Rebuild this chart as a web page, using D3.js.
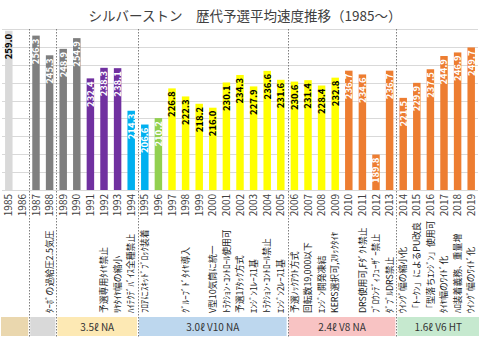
<!DOCTYPE html>
<html lang="ja">
<head>
<meta charset="UTF-8">
<script src="https://d3js.org/d3.v7.min.js"></script>
<style>
  body { margin: 0; background: #fff; }
  svg { display: block; font-family: "Noto Sans CJK JP", "Noto Sans", sans-serif; }
</style>
</head>
<body>
<svg id="chart" width="480" height="338"></svg>
<script>
// --- data ---
const years = [1985, 1986, 1987, 1988, 1989, 1990, 1991, 1992, 1993, 1994,
               1995, 1996, 1997, 1998, 1999, 2000, 2001, 2002, 2003, 2004,
               2005, 2006, 2007, 2008, 2009, 2010, 2011, 2012, 2013, 2014,
               2015, 2016, 2017, 2018, 2019];
const speeds = [259.0, null, 256.3, 245.3, 248.9, 254.9, 232.4, 238.3, 238.1, 214.3,
                206.6, 210.2, 226.8, 222.3, 218.2, 216.0, 230.1, 234.3, 227.9, 236.6,
                231.6, 230.6, 231.4, 228.4, 232.8, 236.7, 234.6, 189.8, 236.7, 221.5,
                229.9, 237.5, 244.9, 246.9, 249.7];
// bar colour group per year (see palette below)
const barGroup = [0, null, 1, 1, 1, 1, 2, 2, 2, 3,
                  3, 4, 5, 5, 5, 5, 5, 5, 5, 5,
                  5, 5, 5, 5, 5, 6, 6, 6, 6, 6,
                  6, 6, 6, 6, 6];
const yTicks = [170, 180, 190, 200, 210, 220, 230, 240, 250, 260];

const eraLabels = ["", "", "3.5ℓ NA", "3.0ℓ V10 NA", "2.4ℓ V8 NA", "1.6ℓ V6 HT"];
const eraStart = [1985, 1987, 1989, 1995, 2006, 2014];
const eraEnd   = [1986, 1988, 1994, 2005, 2013, 2019];

const noteYears = [1988, 1992, 1993, 1994, 1995, 1998, 2000, 2001, 2002, 2003,
                   2004, 2005, 2006, 2007, 2008, 2009, 2011, 2012, 2013, 2014,
                   2015, 2016, 2017, 2018, 2019];
const noteTexts = ["ﾀｰﾎﾞの過給圧2.5気圧", "予選専用ﾀｲﾔ禁止", "ﾘﾔﾀｲﾔ幅の縮小",
                   "ﾊｲﾃｸﾃﾞﾊﾞｲｽ全種禁止", "ﾌﾛｱにｽｷｯﾄﾞﾌﾞﾛｯｸ装着", "ｸﾞﾙｰﾌﾞﾄﾞﾀｲﾔ導入",
                   "V型10気筒に統一", "ﾄﾗｸｼｮﾝ･ｺﾝﾄﾛｰﾙ使用可", "予選1ｱﾀｯｸ方式",
                   "ｴﾝｼﾞﾝ1ﾚｰｽ1基", "ﾄﾗｸｼｮﾝ･ｺﾝﾄﾛｰﾙ禁止", "ｴﾝｼﾞﾝ2ﾚｰｽ1基",
                   "予選ﾉｯｸｱｳﾄ方式", "回転数19,000以下", "ｴﾝｼﾞﾝ開発凍結",
                   "KERS選択可,ｽﾘｯｸﾀｲﾔ", "DRS使用可,Fﾀﾞｸﾄ禁止", "ﾌﾞﾛｳﾝﾃﾞｨﾌｭｰｻﾞｰ禁止",
                   "ﾀﾞﾌﾞﾙDRS禁止", "ｳｲﾝｸﾞ幅の縮小化", "「ﾄｰｸﾝ」によるPU改良",
                   "「型落ちｴﾝｼﾞﾝ」使用可", "ﾀｲﾔ幅のﾜｲﾄﾞ化", "ﾊﾛ装着義務、重量増",
                   "ｳｲﾝｸﾞ幅のﾜｲﾄﾞ化"];

const title = "シルバーストン　歴代予選平均速度推移（1985～）";

// --- styles ---
const palette    = ["#d9d9d9", "#7f7f7f", "#7030a0", "#00b0f0", "#92d050", "#ffff00", "#ed7d31"];
const labelColor = ["#000", "#fff", "#fff", "#fff", "#fff", "#000", "#fff"];
const eraColors  = ["#ead7ae", "#d9d9d9", "#fde9b4", "#bdd7ee", "#f8c3c3", "#c6e9cf"];

const svg = d3.select("#chart");

const x = d3.scaleBand()
    .domain(years)
    .range([2, 478])
    .paddingInner(0.45)
    .paddingOuter(0.225);

const y = d3.scaleLinear()
    .domain([170, 260])
    .range([190, 29]);

const cx = yr => x(yr) + x.bandwidth() / 2;
const gapLeft = yr => x(yr) - x.step() * x.paddingInner() / 2;

// title
svg.append("text")
    .attr("x", 245)
    .attr("y", 21)
    .attr("text-anchor", "middle")
    .attr("font-size", 13.5)
    .attr("fill", "#404040")
    .text(title);

// gridlines
svg.append("g")
    .selectAll("line")
    .data(yTicks)
    .join("line")
    .attr("x1", 2)
    .attr("x2", 478)
    .attr("y1", d => Math.round(y(d)) + 0.5)
    .attr("y2", d => Math.round(y(d)) + 0.5)
    .attr("stroke", "#d9d9d9");

// bars
const barData = years.map((yr, i) => ({ year: yr, v: speeds[i], g: barGroup[i] }))
    .filter(d => d.v !== null);

svg.append("g")
    .selectAll("rect")
    .data(barData)
    .join("rect")
    .attr("x", d => x(d.year))
    .attr("width", x.bandwidth())
    .attr("y", d => y(d.v))
    .attr("height", d => y(170) - y(d.v))
    .attr("fill", d => palette[d.g]);

// value labels inside bars
svg.append("g")
    .selectAll("text")
    .data(barData)
    .join("text")
    .attr("transform", d => `translate(${cx(d.year)},${y(d.v) + 3}) rotate(-90)`)
    .attr("text-anchor", "end")
    .attr("dy", "0.36em")
    .attr("font-size", 9.5)
    .attr("font-weight", "bold")
    .attr("fill", d => labelColor[d.g])
    .text(d => d.v.toFixed(1));

// year labels
svg.append("g")
    .selectAll("text")
    .data(years)
    .join("text")
    .attr("transform", d => `translate(${cx(d)},194) rotate(-90)`)
    .attr("text-anchor", "end")
    .attr("dy", "0.36em")
    .attr("font-size", 10)
    .attr("fill", "#404040")
    .text(d => d);

// rule-change notes
svg.append("g")
    .selectAll("text")
    .data(noteYears.map((yr, i) => ({ year: yr, t: noteTexts[i] })))
    .join("text")
    .attr("transform", d => `translate(${cx(d.year)},313) rotate(-90)`)
    .attr("text-anchor", "start")
    .attr("dy", "0.36em")
    .attr("font-size", 8.8)
    .attr("fill", "#222")
    .text(d => d.t);

// engine era bands
const eras = eraLabels.map((lab, i) => {
    const x0 = i === 0 ? 0 : gapLeft(eraStart[i]);
    const x1 = i === eraLabels.length - 1 ? 480 : gapLeft(eraEnd[i] + 1);
    return { lab, x0, x1, c: eraColors[i] };
});

svg.append("g")
    .selectAll("rect")
    .data(eras)
    .join("rect")
    .attr("x", d => d.x0 + 1)
    .attr("width", d => d.x1 - d.x0 - 2)
    .attr("y", 317)
    .attr("height", 19)
    .attr("fill", d => d.c);

svg.append("g")
    .selectAll("text")
    .data(eras)
    .join("text")
    .attr("x", d => (d.x0 + d.x1) / 2)
    .attr("y", 327)
    .attr("dy", "0.36em")
    .attr("text-anchor", "middle")
    .attr("font-size", 10)
    .attr("fill", "#333")
    .text(d => d.lab);

// dotted era dividers
svg.append("g")
    .selectAll("line")
    .data(eraStart.slice(1))
    .join("line")
    .attr("x1", d => Math.round(gapLeft(d)) + 0.5)
    .attr("x2", d => Math.round(gapLeft(d)) + 0.5)
    .attr("y1", 29)
    .attr("y2", 337)
    .attr("stroke", "#7f7f7f")
    .attr("stroke-dasharray", "1.5,1.5");
</script>
</body>
</html>
